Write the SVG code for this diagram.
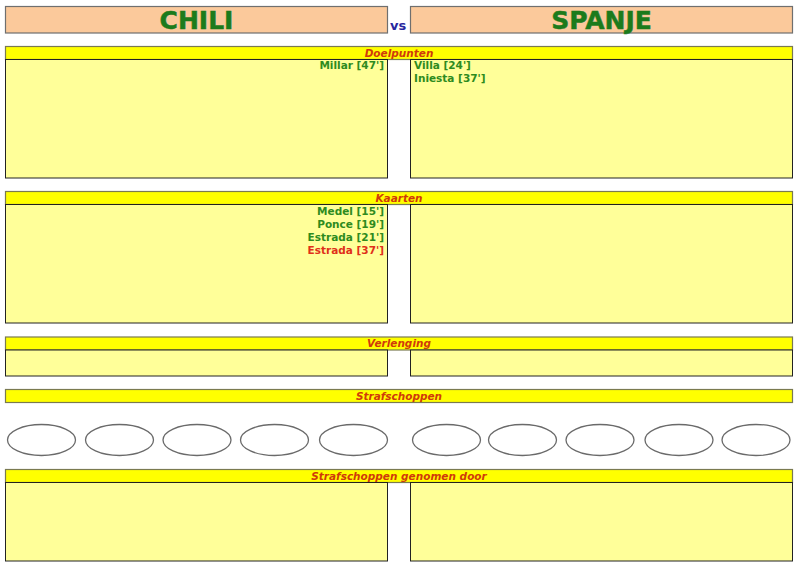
<svg xmlns="http://www.w3.org/2000/svg" width="800" height="569" viewBox="0 0 800 569">
<style>
text{font-family:"DejaVu Sans","Liberation Sans",sans-serif;font-weight:bold}
.team{fill:#FBC99B;stroke:#6f6f6f;stroke-width:1.2}
.tt{font-size:25px;fill:#1C7B1C;text-anchor:middle;stroke:#1C7B1C;stroke-width:0.5}
.vs{font-size:13px;fill:#27279E}
.bar{fill:#FFFF00;stroke:#7a7a50;stroke-width:1.2}
.bt{font-size:10.5px;font-style:italic;fill:#D03A0A;text-anchor:middle}
.box{fill:#FFFF99;stroke:#222;stroke-width:1}
.g{font-size:10.5px;fill:#2E8B1E}
.r{font-size:10.5px;fill:#E0301A}
.ov{fill:#fff;stroke:#6a6a6a;stroke-width:1.3}
</style>
<rect width="800" height="569" fill="#fff"/>
<g id="header">
<g id="chili"><rect class="team" x="5.5" y="6.5" width="382" height="26.5"/><text class="tt" x="196.5" y="28.5">CHILI</text></g>
<text class="vs" x="390" y="30">vs</text>
<g id="spanje"><rect class="team" x="410.5" y="6.5" width="382" height="26.5"/><text class="tt" x="601.5" y="28.5">SPANJE</text></g>
</g>
<g id="doelpunten">
<rect class="bar" x="5.5" y="46.5" width="787" height="13"/>
<text class="bt" x="399" y="57">Doelpunten</text>
<rect class="box" x="5.5" y="59.5" width="382" height="118.5"/>
<rect class="box" x="410.5" y="59.5" width="382" height="118.5"/>
<text class="g" x="384" y="69" text-anchor="end">Millar [47']</text>
<text class="g" x="414" y="69">Villa [24']</text>
<text class="g" x="414" y="82">Iniesta [37']</text>
</g>
<g id="kaarten">
<rect class="bar" x="5.5" y="191.5" width="787" height="13"/>
<text class="bt" x="399" y="202">Kaarten</text>
<rect class="box" x="5.5" y="204.5" width="382" height="118.5"/>
<rect class="box" x="410.5" y="204.5" width="382" height="118.5"/>
<g text-anchor="end">
<text class="g" x="384" y="215">Medel [15']</text>
<text class="g" x="384" y="228">Ponce [19']</text>
<text class="g" x="384" y="241">Estrada [21']</text>
<text class="r" x="384" y="254">Estrada [37']</text>
</g>
</g>
<g id="verlenging">
<rect class="bar" x="5.5" y="337" width="787" height="13"/>
<text class="bt" x="399" y="347">Verlenging</text>
<rect class="box" x="5.5" y="350" width="382" height="26"/>
<rect class="box" x="410.5" y="350" width="382" height="26"/>
</g>
<g id="strafschoppen">
<rect class="bar" x="5.5" y="389.5" width="787" height="13"/>
<text class="bt" x="399" y="399.5">Strafschoppen</text>
<ellipse class="ov" cx="41.5" cy="440" rx="34" ry="15.5"/>
<ellipse class="ov" cx="119.5" cy="440" rx="34" ry="15.5"/>
<ellipse class="ov" cx="197" cy="440" rx="34" ry="15.5"/>
<ellipse class="ov" cx="274.5" cy="440" rx="34" ry="15.5"/>
<ellipse class="ov" cx="353.5" cy="440" rx="34" ry="15.5"/>
<ellipse class="ov" cx="446.5" cy="440" rx="34" ry="15.5"/>
<ellipse class="ov" cx="522.5" cy="440" rx="34" ry="15.5"/>
<ellipse class="ov" cx="600" cy="440" rx="34" ry="15.5"/>
<ellipse class="ov" cx="679" cy="440" rx="34" ry="15.5"/>
<ellipse class="ov" cx="756" cy="440" rx="34" ry="15.5"/>
</g>
<g id="genomen">
<rect class="bar" x="5.5" y="469.5" width="787" height="13"/>
<text class="bt" x="399" y="480">Strafschoppen genomen door</text>
<rect class="box" x="5.5" y="482.5" width="382" height="78.5"/>
<rect class="box" x="410.5" y="482.5" width="382" height="78.5"/>
</g>
<g id="connectors"/>
</svg>
